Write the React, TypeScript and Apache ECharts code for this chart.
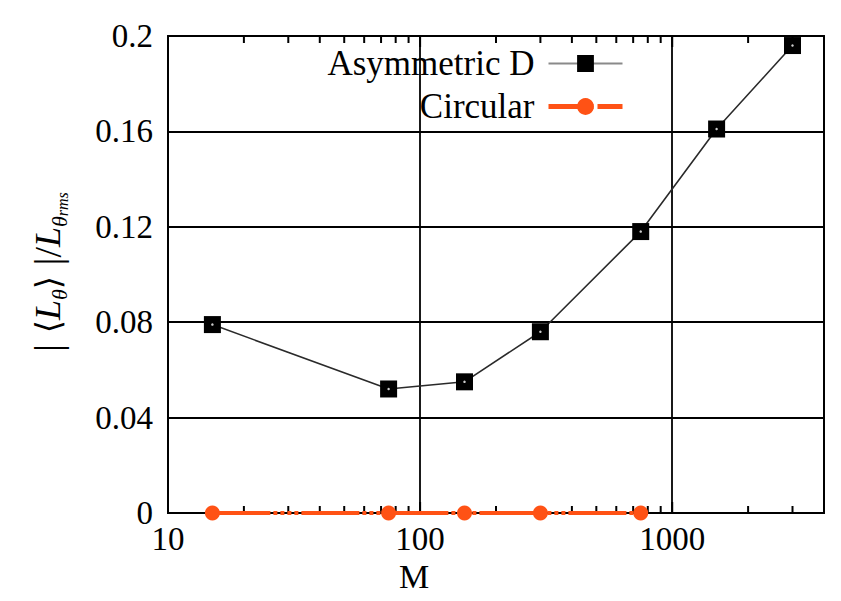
import React, { useEffect, useRef } from "react";
import * as echarts from "echarts";

const asymM = [15, 75, 150, 300, 750, 1500, 3000];
const asymValues = [0.079, 0.052, 0.055, 0.076, 0.118, 0.161, 0.196];
const circM = [15, 75, 150, 300, 750];
const circValues = [0, 0, 0, 0, 0];
const xMajorTicks = [100, 1000];
const xMinorTicks = [20, 30, 40, 50, 60, 70, 80, 90, 200, 300, 400, 500, 600, 700, 800, 900, 2000, 3000];
const legendNames = ["Asymmetric D", "Circular"];
const X_MIN = 10;
const X_MAX = 4000;
const Y_MIN = 0;
const Y_MAX = 0.2;
const Y_STEP = 0.04;

const SERIF = "'Liberation Serif', 'DejaVu Serif', serif";
const ORANGE = "#ff5215";

export default function App() {
  const ref = useRef<HTMLDivElement>(null);
  useEffect(() => {
    if (!ref.current) return;
    const chart = echarts.init(ref.current, undefined, { renderer: "svg" });
    const lineBlack = { color: "#000", width: 1.8 };
    // short x tick marks, placed through the x scale, at the bottom or top frame edge
    const tickSeries = (vals: number[], edge: number, len: number) => ({
      type: "custom",
      xAxisIndex: 0,
      yAxisIndex: 0,
      data: vals.map((v) => [v, edge]),
      renderItem: (_params: any, api: any) => {
        const p = api.coord([api.value(0), api.value(1)]);
        const dir = edge === Y_MIN ? -1 : 1;
        return {
          type: "line",
          shape: { x1: p[0], y1: p[1], x2: p[0], y2: p[1] + dir * len },
          style: { stroke: "#000", lineWidth: 2 },
        };
      },
    });
    chart.setOption({
      animation: false,
      backgroundColor: "#fff",
      grid: {
        left: 168,
        right: 17,
        top: 36,
        bottom: 88,
        show: true,
        borderColor: "#000",
        borderWidth: 1.8,
        backgroundColor: "transparent",
      },
      legend: {
        data: [
          { name: legendNames[0], lineStyle: { color: "#8a8a8a", width: 2.2 } },
          { name: legendNames[1], lineStyle: { color: ORANGE, width: 5, type: [36, 4, 5, 4, 30] } },
        ],
        orient: "vertical",
        align: "right",
        right: 211,
        top: 37,
        itemWidth: 74,
        itemHeight: 21,
        itemGap: 0,
        textStyle: { fontFamily: SERIF, fontSize: 35, color: "#000", lineHeight: 43, padding: [0, 9, 0, 0] },
      },
      xAxis: [
        {
          type: "log",
          logBase: 10,
          min: X_MIN,
          max: X_MAX,
          position: "bottom",
          axisLine: { show: true, lineStyle: lineBlack },
          axisTick: { show: false },
          axisLabel: {
            fontFamily: SERIF,
            fontSize: 33,
            color: "#000",
            margin: 9,
            showMaxLabel: false,
            formatter: (v: number) => String(Math.round(v)),
          },
          splitLine: { show: true, lineStyle: lineBlack },
        },
      ],
      yAxis: [
        {
          type: "value",
          min: Y_MIN,
          max: Y_MAX,
          interval: Y_STEP,
          position: "left",
          axisLine: { show: true, lineStyle: lineBlack },
          axisTick: { inside: true, length: 10, lineStyle: lineBlack },
          axisLabel: {
            fontFamily: SERIF,
            fontSize: 33,
            color: "#000",
            margin: 15,
            formatter: (v: number) => String(Number(v.toFixed(2))),
          },
          splitLine: { show: true, lineStyle: lineBlack },
        },
        {
          type: "value",
          min: Y_MIN,
          max: Y_MAX,
          interval: Y_STEP,
          position: "right",
          axisLine: { show: true, lineStyle: lineBlack },
          axisTick: { inside: true, length: 10, lineStyle: lineBlack },
          axisLabel: { show: false },
          splitLine: { show: false },
        },
      ],
      series: [
        tickSeries(xMinorTicks, Y_MIN, 7),
        tickSeries(xMinorTicks, Y_MAX, 7),
        tickSeries(xMajorTicks, Y_MIN, 11),
        tickSeries(xMajorTicks, Y_MAX, 11),
        {
          name: legendNames[0],
          type: "line",
          xAxisIndex: 0,
          yAxisIndex: 0,
          data: asymM.map((m, i) => [m, asymValues[i]]),
          symbol: "rect",
          symbolSize: 17,
          itemStyle: { color: "#000" },
          lineStyle: { color: "#2a2a2a", width: 1.6 },
          z: 3,
        },
        {
          name: "",
          type: "scatter",
          xAxisIndex: 0,
          yAxisIndex: 0,
          data: asymM.map((m, i) => [m, asymValues[i]]),
          symbol: "circle",
          symbolSize: 2.5,
          itemStyle: { color: "#fff" },
          silent: true,
          z: 5,
        },
        {
          name: legendNames[1],
          type: "line",
          xAxisIndex: 0,
          yAxisIndex: 0,
          data: circM.map((m, i) => [m, circValues[i]]),
          symbol: "circle",
          symbolSize: 15,
          itemStyle: { color: ORANGE },
          lineStyle: { color: ORANGE, width: 4, type: [58, 3, 4, 3, 4, 3, 4, 3, 4, 3] },
          z: 4,
        },
      ],
      graphic: [
        {
          type: "text",
          x: 48,
          y: 272,
          rotation: Math.PI / 2,
          style: {
            text: "{b||}{g| ⟨}{L|L}{s|θ}{g|⟩ }{b||/}{L|L}{s|θ}{r|rms}",
            textAlign: "center",
            textVerticalAlign: "middle",
            rich: {
              b: { fontFamily: SERIF, fontSize: 38, lineHeight: 44, fill: "#000" },
              g: { fontFamily: "'DejaVu Serif', serif", fontSize: 34, lineHeight: 44, fill: "#000" },
              L: { fontFamily: SERIF, fontStyle: "italic", fontSize: 36, lineHeight: 44, fill: "#000" },
              s: { fontFamily: SERIF, fontStyle: "italic", fontSize: 22, lineHeight: 26, verticalAlign: "bottom", fill: "#000" },
              r: { fontFamily: SERIF, fontStyle: "italic", fontSize: 16, lineHeight: 12, verticalAlign: "bottom", fill: "#000" },
            },
          },
        },
        {
          type: "text",
          x: 414,
          y: 576,
          style: {
            text: "M",
            font: `34px ${SERIF}`,
            fill: "#000",
            textAlign: "center",
            textVerticalAlign: "middle",
          },
        },
      ],
    });
    return () => chart.dispose();
  }, []);
  return <div ref={ref} style={{ position: "absolute", left: 0, top: 0, width: 841, height: 601 }} />;
}
